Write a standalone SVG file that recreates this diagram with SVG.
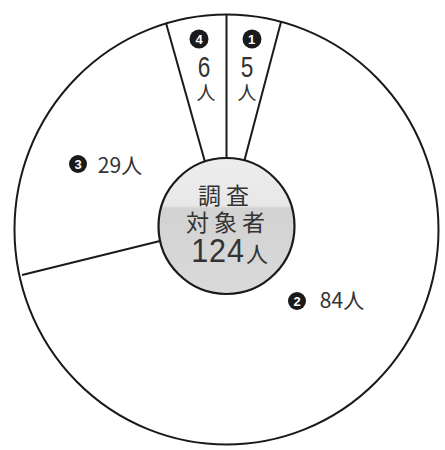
<svg xmlns="http://www.w3.org/2000/svg" width="445" height="450" viewBox="0 0 445 450">
<defs>
<linearGradient id="hub" x1="0" y1="0" x2="0" y2="1">
<stop offset="0" stop-color="#ededed"/>
<stop offset="0.35" stop-color="#e8e8e8"/>
<stop offset="0.37" stop-color="#d2d2d2"/>
<stop offset="1" stop-color="#dadada"/>
</linearGradient>
<style>
.ln{stroke:#1a1a1a;stroke-width:2;fill:none}
.hubc{stroke:#1a1a1a;stroke-width:2.2;fill:url(#hub)}
.t{font-family:"Noto Sans CJK JP","Noto Sans",sans-serif;fill:#333;text-anchor:middle}
.d{font-family:"Liberation Sans",Arial,sans-serif;fill:#333;text-anchor:middle}
.b{fill:#1a1a1a}
.bn{font-family:"Liberation Sans",Arial,sans-serif;font-weight:bold;font-size:13px;fill:#fff;text-anchor:middle}
</style>
</defs>
<rect width="445" height="450" fill="#fff"/>
<g id="pie">
<ellipse cx="226.5" cy="229.5" rx="212" ry="215" class="ln"/>
</g>
<g id="connectors">
<line x1="226.5" y1="14.5" x2="226.5" y2="160" class="ln"/>
<line x1="281" y1="22" x2="244" y2="162" class="ln"/>
<line x1="166" y1="23" x2="205" y2="162" class="ln"/>
<line x1="22" y1="275" x2="160" y2="241" class="ln"/>
</g>
<g id="hub-node">
<circle cx="226.5" cy="226" r="68" class="hubc"/>
<text class="t" x="226" y="204" font-size="23" letter-spacing="5">調査</text>
<text class="t" x="228" y="231" font-size="23" letter-spacing="5">対象者</text>
<text class="d" x="218" y="262" font-size="34" letter-spacing="1" transform="translate(218 0) scale(0.9 1) translate(-218 0)">124</text>
<text class="t" x="257" y="262" font-size="22">人</text>
</g>
<g id="slice1">
<circle cx="252" cy="39" r="9.5" class="b"/>
<text class="bn" x="251.5" y="43.7">1</text>
<text class="d" x="247" y="77" font-size="29" transform="translate(247 0) scale(0.78 1) translate(-247 0)">5</text>
<text class="t" x="247" y="100" font-size="19">人</text>
</g>
<g id="slice4">
<circle cx="199" cy="39" r="9.5" class="b"/>
<text class="bn" x="199" y="43.7">4</text>
<text class="d" x="204" y="77" font-size="29" transform="translate(204 0) scale(0.78 1) translate(-204 0)">6</text>
<text class="t" x="206" y="100" font-size="19">人</text>
</g>
<g id="slice3">
<circle cx="78" cy="164" r="9" class="b"/>
<text class="bn" x="78" y="168.6">3</text>
<text class="t" x="120" y="173" font-size="21">29人</text>
</g>
<g id="slice2">
<circle cx="297" cy="301" r="9" class="b"/>
<text class="bn" x="297" y="305.6">2</text>
<text class="t" x="342" y="308" font-size="21">84人</text>
</g>
</svg>
